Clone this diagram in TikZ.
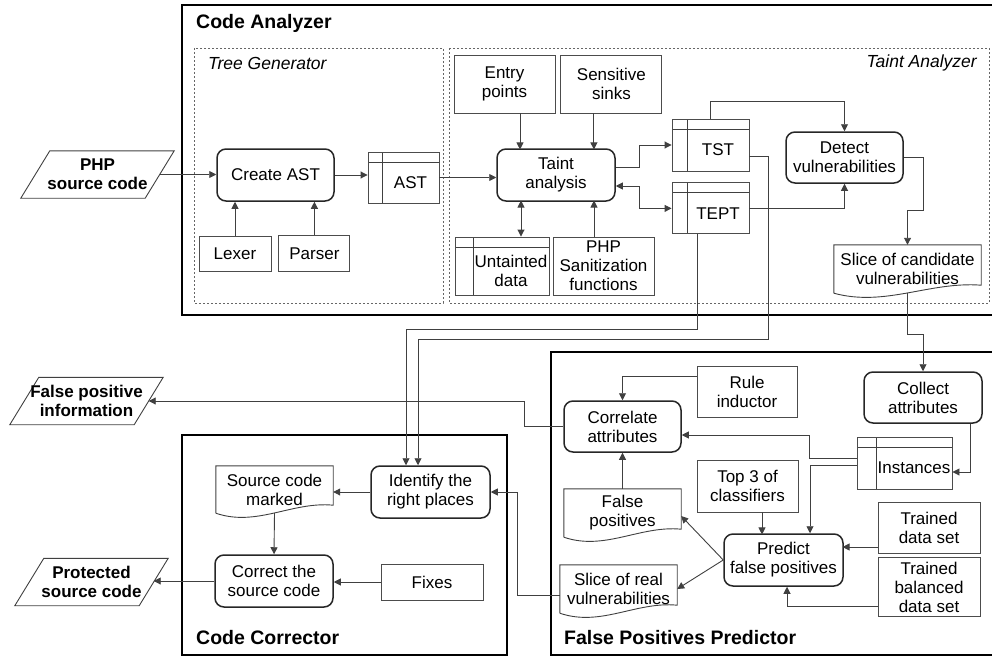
\documentclass[tikz,border=0pt]{standalone}
\usepackage{fontspec}
\setmainfont{Liberation Sans}
\usetikzlibrary{positioning,arrows.meta}

\begin{document}
\begin{tikzpicture}[
    x=1pt, y=-1pt,
    font=\fontsize{17}{19}\selectfont,
    conn/.style={draw=black!75, line width=0.9pt},
    arrow/.style={conn, -{Triangle[length=7pt,width=7pt]}},
    darrow/.style={conn, {Triangle[length=7pt,width=7pt]}-{Triangle[length=7pt,width=7pt]}},
    box/.style={rectangle, draw=black!70, line width=0.9pt, align=center, inner sep=1pt, minimum width=101, minimum height=51},
    proc/.style={rectangle, draw=black!85, line width=1.5pt, rounded corners=9pt, align=center, inner sep=1pt, minimum width=118, minimum height=52},
    storebox/.style 2 args={box, path picture={
        \draw[conn] ([xshift=#1]path picture bounding box.north west) -- ([xshift=#1]path picture bounding box.south west);
        \draw[conn] ([yshift=-10pt]path picture bounding box.north west) -- ([yshift=-10pt]path picture bounding box.north east);},
        label={[xshift={#1/2}, yshift=-5pt, align=center]center:#2}},
    docbox/.style={align=center, inner sep=1pt, minimum width=#1, minimum height=48,
        append after command={\pgfextra{\draw[conn] (\tikzlastnode.south west) -- (\tikzlastnode.north west)
            -- (\tikzlastnode.north east) -- ([yshift=8pt]\tikzlastnode.south east)
            .. controls ([xshift={-0.35*#1}, yshift=12pt]\tikzlastnode.south east)
            and ([xshift={0.35*#1}, yshift=-14pt]\tikzlastnode.south west) .. (\tikzlastnode.south west);}}},
    iobox/.style={font=\fontsize{17}{19}\selectfont\bfseries, align=center, inner sep=0pt, minimum width=124, minimum height=47,
        append after command={\pgfextra{\draw[conn] ([xshift=-14.5pt]\tikzlastnode.south west)
            -- ([xshift=14.5pt]\tikzlastnode.north west) -- ([xshift=14.5pt]\tikzlastnode.north east)
            -- ([xshift=-14.5pt]\tikzlastnode.south east) -- cycle;}}},
    outerbox/.style={draw=black, line width=2pt},
    groupbox/.style={draw=black!60, line width=0.8pt, dash pattern=on 2pt off 2pt},
    boxtitle/.style={font=\fontsize{19.5}{22}\selectfont\bfseries, anchor=west, inner sep=0pt},
    subtitle/.style={font=\fontsize{17.5}{20}\selectfont\itshape, inner sep=0pt}
]
\useasboundingbox (0,0) rectangle (992,658);

% Frames
\draw[outerbox] (182,5) rectangle (1000,315);
\node[boxtitle] (catitle) at (196,23) {Code Analyzer};
\draw[groupbox] (194,48) rectangle (443,303);
\node[subtitle, anchor=west] (tgtitle) at (208,63) {Tree Generator};
\draw[groupbox] (449,48) rectangle (989,303);
\node[subtitle, anchor=east] (tatitle) at (977,63) {Taint Analyzer};
\draw[outerbox] (182,435) rectangle (507,655);
\node[boxtitle] (cctitle) at (196,638) {Code Corrector};
\draw[outerbox] (551,352) rectangle (1000,655);
\node[boxtitle] (fptitle) at (564,638) {False Positives Predictor};

% Tree Generator
\node[iobox] (php) at (97.5,174.5) {PHP\\source code};
\node[proc, minimum width=117] (createast) at (275.5,175) {Create AST};
\node[box, minimum width=72, minimum height=35] (lexer) at (235,253.5) {Lexer};
\node[box, minimum width=71, minimum height=36, right=7pt of lexer] (parser) {Parser};
\node[storebox={14pt}{AST}, minimum width=71, minimum height=51] (ast) at (403.5,177.5) {};

% Taint Analyzer
\node[box, minimum height=58] (entry) at (504.5,84) {Entry\\points};
\node[box, minimum height=58, right=5pt of entry] (sinks) {Sensitive\\sinks};
\node[proc] (taint) at (556,175) {Taint\\analysis};
\node[storebox={18pt}{Untainted\\data}, minimum width=94, minimum height=58] (untainted) at (502,266) {};
\node[box, minimum height=58] (sanit) at (603.5,266) {PHP\\Sanitization\\functions};
\node[storebox={15pt}{TST}, minimum width=77, minimum height=52] (tst) at (710.5,145) {};
\node[storebox={15pt}{TEPT}, minimum width=77, minimum height=51, below=11pt of tst] (tept) {};
\node[proc, minimum width=117, minimum height=51] (detect) at (844.5,157.5) {Detect\\vulnerabilities};
\node[docbox=147] (slicecand) at (907.5,269) {Slice of candidate\\vulnerabilities};

% Code Corrector
\node[proc, minimum width=119] (identify) at (430.5,492) {Identify the\\right places};
\node[docbox=117, minimum height=47] (srcmarked) at (274.5,489.5) {Source code\\marked};
\node[proc] (correct) at (274,581) {Correct the\\source code};
\node[box, minimum width=102, minimum height=36] (fixes) at (432,582) {Fixes};
\node[iobox] (fpinfo) at (86.5,401) {False positive\\information};
\node[iobox] (protected) at (91.5,582) {Protected\\source code};

% False Positives Predictor
\node[box, minimum width=100] (rule) at (747,391.5) {Rule\\inductor};
\node[proc, minimum width=117, minimum height=51] (correlate) at (622.5,426.5) {Correlate\\attributes};
\node[proc, minimum height=51] (collect) at (923,397.5) {Collect\\attributes};
\node[storebox={19pt}{Instances}, minimum width=95, minimum height=52] (instances) at (904.5,463) {};
\node[box, minimum height=52] (top3) at (747.5,486) {Top 3 of\\classifiers};
\node[proc, minimum width=119] (predict) at (783.5,560) {Predict\\false positives};
\node[box, minimum width=102] (trained) at (929,527.5) {Trained\\data set};
\node[box, minimum width=102, minimum height=59, below=4pt of trained] (trainedbal) {Trained\\balanced\\data set};
\node[docbox=117] (falsepos) at (622.5,513) {False\\positives};
\node[docbox=117] (slicereal) at (618.5,589) {Slice of real\\vulnerabilities};

% Tree Generator arrows
\draw[arrow] (php.east) -- (php.east -| createast.west);
\draw[arrow] (lexer) -- (lexer |- createast.south);
\draw[arrow] (parser) -- (parser |- createast.south);
\draw[arrow] (createast.east) -- (createast.east -| ast.west);
\draw[arrow] (ast.east) -- (ast.east -| taint.west);

% Taint Analyzer arrows
\draw[arrow] ([xshift=15.5pt]entry.south) -- ++(0,36);
\draw[arrow] ([xshift=-17.5pt]sinks.south) -- ++(0,36);
\draw[darrow] ([xshift=19pt]untainted.north) -- ++(0,-36);
\draw[arrow] ([xshift=-9.5pt]sanit.north) -- ++(0,-36);
\draw[arrow] ([yshift=8pt]taint.east) -- ++(24,0) |- (tst.west);
\draw[darrow] ([yshift=-11pt]taint.east) -- ++(24,0) |- (tept.west);
\draw[arrow] (tst.north) -- ++(0,-17) -| (detect.north);
\draw[arrow] (tept.east) -| (detect.south);
\draw[arrow] (detect.east) -- ++(20,0) -- ++(0,53) -| (slicecand.north);

% Tables to the Code Corrector
\draw[arrow] ([xshift=-13.5pt]tept.south) -- ++(0,95) -| ([xshift=-24.5pt]identify.north);
\draw[arrow] ([yshift=-11pt]tst.east) -- ++(19,0) -- ++(0,183) -| ([xshift=-12.5pt]identify.north);

% False Positives Predictor arrows
\draw[arrow] (slicecand.south) -- ++(0,41) -| (collect.north);
\draw[arrow] ([xshift=47pt]collect.south) |- ([yshift=-9pt]instances.east);
\draw[arrow] ([yshift=5pt]instances.west) -- ++(-47,0) |- ([yshift=-8.5pt]correlate.east);
\draw[arrow] ([yshift=-2pt]instances.west) -| ([xshift=26.5pt]predict.north);
\draw[arrow] ([yshift=15.5pt]rule.west) -| (correlate.north);
\draw[arrow] (falsepos.north) -- (correlate.south);
\draw[arrow] ([xshift=14.5pt]top3.south) -- ++(0,22);
\draw[arrow] ([yshift=-19.5pt]trained.west) -- ++(-35,0);
\draw[arrow] ([yshift=-19.5pt]trainedbal.west) -| ([xshift=3.5pt]predict.south);
\draw[arrow] (predict.west) -- ([yshift=-3pt]falsepos.east);
\draw[arrow] (predict.west) -- (slicereal.east);

% Code Corrector arrows
\draw[arrow] ([yshift=-6pt]slicereal.west) -- ++(-42,0) |- (identify.east);
\draw[arrow] (correlate.west) -- ++(-39,0) |- (fpinfo.east);
\draw[arrow] (identify.west) -- (identify.west -| srcmarked.east);
\draw[arrow] (srcmarked.south) -- (correct.north);
\draw[arrow] (fixes.west) -- (fixes.west -| correct.east);
\draw[arrow] (correct.west) -- (correct.west -| protected.east);

\end{tikzpicture}
\end{document}
